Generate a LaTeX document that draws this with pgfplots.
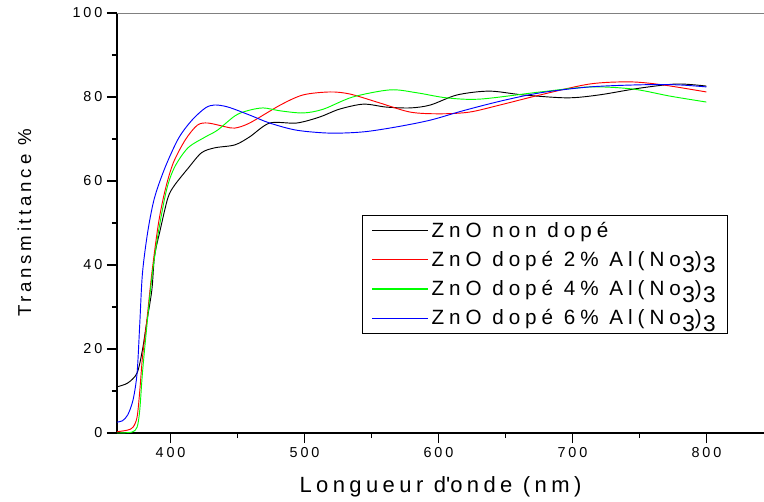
\documentclass[border=0pt]{standalone}
\usepackage{pgfplots}
\pgfplotsset{compat=1.18}
\usepackage{fontspec}
\setmainfont{Liberation Sans}[LetterSpace=20]
\newfontfamily\legfont{Liberation Sans}[LetterSpace=24]
\newcommand{\sub}[1]{\kern1pt\raisebox{-0.6ex}{\fontsize{17}{17}\selectfont #1}}

\begin{document}
\begin{tikzpicture}
\begin{axis}[
    name=ax,
    width=485.25pt, height=315pt, scale only axis,
    xmin=360, xmax=843, ymin=0, ymax=100,
    axis lines=left,
    axis line style={-, line width=1.1pt},
    xtick={400,500,...,800}, ytick={0,20,...,100},
    minor x tick num=1, minor y tick num=1,
    tick align=outside,
    major tick length=7.5pt, minor tick length=3.75pt,
    tick style={black, line width=1pt},
    /pgf/number format/assume math mode=true,
    tick label style={font=\fontsize{10.8}{12}\selectfont},
    xlabel={Longueur d\textquotesingle onde (nm)},
    ylabel={Transmittance \%},
    xlabel style={font=\fontsize{16.5}{18}\selectfont, yshift=-7pt},
    ylabel style={font=\fontsize{14}{16}\selectfont, yshift=24pt},
    legend style={at={(0.379,0.519)}, anchor=north west, draw=black, thin,
        font=\legfont\fontsize{15.5}{17}\selectfont, row sep=5pt,
        inner xsep=7pt, inner ysep=3pt},
    legend cell align=left,
    legend image code/.code={\draw[#1, line width=0.8pt] (0pt,0pt) -- (42pt,0pt);},
    every axis plot/.append style={line width=0.7pt, smooth},
]
\addplot[black] coordinates {
(360,11)(368,11.9)(375,14.3)(379,19.8)(382,26)(386,34)(388,42)(392,48)(398,56)(403,59)
(413,63)(423,66.7)(433,67.9)(448,68.6)(459,70.5)(474,73.8)(494,73.8)(511,75.2)(526,77.1)
(544,78.3)(561,77.6)(579,77.4)(594,78.1)(614,80.5)(638,81.4)(663,80.5)(696,79.8)(720,80.5)
(750,82.1)(778,83.1)(800,82.6)};
\addlegendentry{ZnO non dopé}
\addplot[red] coordinates {
(360,0.3)(368,0.7)(372,1.4)(375,3.8)(377,10)(379,18)(382,26)(386,38)(391,50)(396,57.9)
(402,64.3)(411,69.8)(420,73.3)(428,73.8)(441,72.9)(448,72.6)(459,73.8)(482,78.1)(499,80.5)
(519,81.2)(534,80.7)(556,78.6)(579,76.4)(601,76)(623,76.4)(646,78.1)(676,80.5)(713,83.1)
(743,83.6)(767,82.9)(800,81.2)};
\addlegendentry{ZnO dopé 2\% Al(No\sub{3})\sub{3}}
\addplot[green] coordinates {
(360,0)(371,0.2)(375,1.4)(377,5.5)(379,14.3)(382,24.5)(386,37)(391,48)(397,57.9)(403,63.3)
(413,67.9)(426,70.5)(435,72.1)(448,75.5)(457,76.7)(469,77.4)(482,76.7)(499,76.2)(514,77.1)
(536,80)(564,81.7)(584,81)(606,79.8)(631,79.5)(676,81.2)(713,82.4)(745,81.9)(773,80.2)
(800,78.8)};
\addlegendentry{ZnO dopé 4\% Al(No\sub{3})\sub{3}}
\addplot[blue] coordinates {
(360,2.6)(364,2.9)(368,4.3)(372,7.9)(375,14.3)(377,26)(379,38)(383,48)(388,56)(396,63.3)
(406,70.2)(416,74.5)(426,77.4)(433,78.1)(443,77.6)(459,75.7)(474,73.8)(494,72.1)(519,71.4)
(544,71.7)(569,72.9)(594,74.5)(618,76.7)(646,79)(676,81)(713,82.4)(750,82.9)(778,82.9)
(800,82.4)};
\addlegendentry{ZnO dopé 6\% Al(No\sub{3})\sub{3}}
\draw[gray, line width=0.8pt] (rel axis cs:0,1) -- (rel axis cs:1,1);
\end{axis}
\pgfresetboundingbox
\path ([xshift=-87.75pt, yshift=-51pt]ax.south west) rectangle ([yshift=9.75pt]ax.north east);
\end{tikzpicture}
\end{document}
